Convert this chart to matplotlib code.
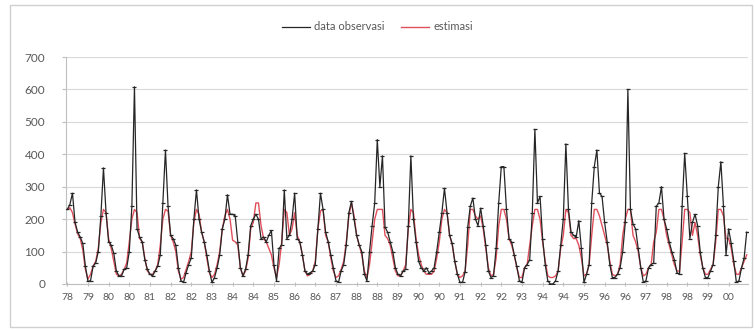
import matplotlib
matplotlib.use("Agg")
import matplotlib.pyplot as plt
from matplotlib.patches import Rectangle

observasi = [
    230, 245, 280, 190, 160, 145, 125, 55, 8, 10, 55, 65,
    100, 210, 358, 220, 130, 120, 95, 40, 25, 25, 45, 50,
    100, 240, 608, 170, 145, 130, 75, 45, 30, 25, 40, 55,
    90, 250, 413, 240, 150, 140, 120, 50, 10, 5, 35, 60,
    80, 200, 290, 200, 160, 130, 90, 40, 5, 20, 50, 90,
    170, 200, 275, 215, 215, 210, 130, 50, 25, 45, 90, 180,
    200, 215, 200, 140, 145, 130, 150, 165, 60, 10, 110, 120,
    290, 140, 150, 200, 280, 140, 130, 90, 40, 30, 35, 40,
    60, 170, 280, 230, 160, 130, 90, 50, 10, 5, 40, 60,
    120, 220, 255, 200, 150, 120, 100, 30, 10, 100, 180, 250,
    445, 300, 395, 175, 160, 130, 100, 50, 30, 25, 40, 45,
    180, 395, 200, 130, 70, 50, 40, 50, 35, 40, 50, 100,
    160, 220, 295, 220, 150, 125, 70, 30, 5, 5, 38, 175,
    240, 265, 200, 180, 234, 180, 120, 40, 20, 25, 110, 250,
    362, 362, 230, 140, 130, 90, 55, 10, 5, 50, 60, 75,
    220, 477, 250, 270, 140, 60, 10, 0, 0, 10, 40, 120,
    200, 432, 230, 160, 150, 145, 195, 110, 5, 30, 60, 250,
    362, 413, 280, 270, 190, 130, 60, 20, 20, 30, 50, 100,
    190, 600, 230, 185, 170, 110, 50, 5, 10, 50, 60, 65,
    240, 250, 300, 200, 170, 130, 100, 75, 35, 30, 240, 403,
    270, 140, 190, 215, 180, 100, 50, 20, 20, 40, 60, 150,
    300, 377, 240, 90, 170, 125, 70, 5, 10, 50, 80, 160,
]

estimasi = [
    230, 235, 220, 185, 155, 140, 105, 45, 15, 30, 55, 70,
    110, 190, 230, 220, 140, 110, 70, 30, 25, 30, 45, 65,
    130, 200, 230, 220, 140, 130, 80, 40, 30, 30, 40, 60,
    120, 200, 230, 225, 150, 130, 100, 40, 15, 20, 45, 70,
    100, 190, 230, 215, 160, 130, 80, 35, 20, 30, 60, 100,
    170, 210, 230, 200, 135, 130, 120, 50, 25, 40, 80, 170,
    190, 250, 250, 180, 140, 130, 110, 90, 50, 20, 60, 130,
    230, 220, 150, 170, 220, 150, 130, 90, 40, 25, 30, 40,
    70, 170, 225, 230, 150, 130, 80, 40, 20, 25, 45, 70,
    130, 210, 250, 210, 150, 120, 90, 40, 20, 60, 130, 200,
    230, 230, 230, 150, 140, 120, 80, 40, 25, 25, 40, 60,
    170, 230, 220, 140, 90, 60, 40, 30, 30, 30, 40, 80,
    130, 200, 230, 220, 150, 120, 70, 30, 20, 25, 40, 120,
    230, 230, 210, 200, 210, 170, 110, 50, 25, 30, 80, 180,
    230, 230, 200, 140, 120, 90, 50, 20, 20, 50, 60, 120,
    180, 230, 230, 200, 130, 70, 25, 20, 20, 25, 40, 110,
    150, 230, 220, 150, 140, 140, 120, 80, 25, 30, 60, 150,
    230, 230, 210, 180, 150, 120, 70, 30, 25, 30, 60, 150,
    200, 230, 230, 150, 130, 100, 50, 25, 30, 50, 60, 130,
    160, 230, 230, 200, 150, 120, 90, 60, 40, 40, 130, 230,
    230, 220, 150, 190, 150, 90, 50, 30, 30, 45, 60, 130,
    230, 230, 210, 140, 140, 110, 60, 30, 30, 50, 70, 90,
]

tick_labels = ["78", "79", "80", "80", "81", "82", "82", "83", "84", "84", "85",
               "86", "86", "87", "88", "88", "89", "90", "90", "91", "92", "92",
               "93", "94", "94", "95", "96", "96", "97", "98", "98", "99", "00"]
label_step = 8
y_ticks = [0, 100, 200, 300, 400, 500, 600, 700]

plt.rcParams['font.family'] = ['Lato', 'DejaVu Sans']
txt = '#595959'

fig = plt.figure(figsize=(7.55, 3.30), dpi=100)
fig.patches.append(Rectangle((10/755, 3/330), 742/755, 322/330, transform=fig.transFigure,
                             fill=False, edgecolor='#d0d0d0', linewidth=1.0))
ax = fig.add_axes([66/755, 46/330, 682/755, 227/330])

x = list(range(len(observasi)))
ax.plot(x, estimasi, color='#e0505c', linewidth=1.0, label='estimasi', zorder=3)
ax.plot(x, observasi, color='#262626', linewidth=0.9, marker='_', markersize=3,
        markeredgewidth=0.9, label='data observasi', zorder=4)

ax.set_xlim(-0.5, len(observasi) - 0.5)
ax.set_ylim(0, 700)
ax.set_yticks(y_ticks)
ax.set_yticklabels([str(v) for v in y_ticks], color=txt, fontsize=8.5)
ax.set_xticks(list(range(0, len(observasi), label_step))[:len(tick_labels)])
ax.set_xticklabels(tick_labels, color=txt, fontsize=7.5)
ax.grid(axis='y', color='#d9d9d9', linewidth=0.8)
ax.set_axisbelow(True)
for s in ['top', 'right']:
    ax.spines[s].set_visible(False)
for s in ['left', 'bottom']:
    ax.spines[s].set_color('#bfbfbf')
    ax.spines[s].set_linewidth(0.8)
ax.tick_params(axis='y', length=3, color='#bfbfbf', pad=12)
ax.tick_params(axis='x', length=3, color='#bfbfbf', direction='inout', pad=5)

h, l = ax.get_legend_handles_labels()
fig.legend([h[1], h[0]], [l[1], l[0]], loc='center', bbox_to_anchor=(0.5, 1 - 27/330),
           ncol=2, frameon=False, fontsize=8, labelcolor=txt, handlelength=2.5,
           columnspacing=1.5, handletextpad=0.4)
leg = fig.legends[0]
for line in leg.get_lines():
    line.set_marker('')

fig.savefig('out.png', dpi=100)
